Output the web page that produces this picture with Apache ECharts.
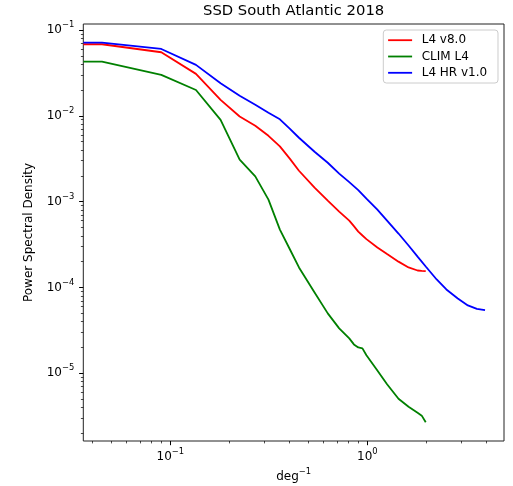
<!DOCTYPE html>
<html>
<head>
<meta charset="utf-8">
<style>
  html, body { margin: 0; padding: 0; background: #fff; }
  #chart { width: 513px; height: 486px; }
</style>
<script src="https://cdn.jsdelivr.net/npm/echarts@6/dist/echarts.min.js"></script>
</head>
<body>
<div id="chart"></div>
<script>
// Wavenumber samples (deg^-1) for the L4 v8.0 and CLIM L4 spectra
const freq = [0.0362, 0.045, 0.09, 0.135, 0.18, 0.225, 0.27, 0.315, 0.36, 0.405, 0.45,
  0.54, 0.63, 0.72, 0.81, 0.855, 0.9, 0.945, 0.99, 1.125, 1.26, 1.44, 1.62, 1.8, 1.89, 1.98];

const psdL4v8 = [0.0682, 0.0682, 0.0550, 0.0308, 0.01535, 0.00982, 0.00766, 0.00585, 0.0044,
  0.00315, 0.00229, 0.001455, 0.001028, 0.000766, 0.000601, 0.000519, 0.000448, 0.000403,
  0.000366, 0.000292, 0.000245, 0.000200, 0.000171, 0.0001577, 0.000156, 0.000155];

const psdClim = [0.0428, 0.0428, 0.0300, 0.0200, 0.00898, 0.00308, 0.00197, 0.001054, 0.000472,
  0.000277, 0.000171, 8.75e-5, 4.99e-5, 3.34e-5, 2.55e-5, 2.17e-5, 2.0e-5, 1.95e-5, 1.62e-5,
  1.08e-5, 7.45e-6, 5.05e-6, 4.07e-6, 3.47e-6, 3.21e-6, 2.69e-6];

// Wavenumber samples (deg^-1) for the high-resolution product
const freqHR = [0.0362, 0.045, 0.09, 0.135, 0.18, 0.225, 0.27, 0.315, 0.36, 0.405, 0.45,
  0.54, 0.63, 0.72, 0.81, 0.9, 0.99, 1.125, 1.26, 1.44, 1.62, 1.8, 1.98,
  2.25, 2.52, 2.88, 3.24, 3.6, 3.96];

const psdHR = [0.0712, 0.0712, 0.0601, 0.0392, 0.0240, 0.0171, 0.01346, 0.01084, 0.00911,
  0.00706, 0.00555, 0.00381, 0.00284, 0.00212, 0.001686, 0.001362, 0.001084, 0.000807,
  0.000601, 0.000425, 0.000308, 0.000229, 0.0001754, 0.0001239, 9.48e-5, 7.45e-5,
  6.17e-5, 5.62e-5, 5.44e-5];

const seriesNames = ['L4 v8.0', 'CLIM L4', 'L4 HR v1.0'];
const seriesColors = ['#ff0000', '#008000', '#0000ff'];

// Axis ranges and tick positions
const X_MIN = 0.03617, X_MAX = 4.943;
const Y_MIN = 1.626e-6, Y_MAX = 0.1174;
const xMajorTicks = [0.1, 1];
const xMinorTicks = [0.04, 0.05, 0.06, 0.07, 0.08, 0.09, 0.2, 0.3, 0.4, 0.5, 0.6, 0.7, 0.8, 0.9, 2, 3, 4];
const yMajorTicks = [1e-5, 1e-4, 1e-3, 1e-2, 1e-1];
const yMinorTicks = [];
for (let d = -6; d <= -2; d++) {
  for (let m = 2; m <= 9; m++) {
    const v = m * Math.pow(10, d);
    if (v >= Y_MIN && v <= Y_MAX) yMinorTicks.push(v);
  }
}

const FONT = 'DejaVu Sans';
const MINUS = '\u2212';

function zip(xs, ys) {
  return xs.map((x, i) => [x, ys[i]]);
}

function powerLabel(v) {
  const e = Math.round(Math.log10(v));
  const exp = e < 0 ? MINUS + Math.abs(e) : String(e);
  return '{b|10}{s|' + exp + '}';
}

const labelRich = {
  b: { fontSize: 12, lineHeight: 18, fontFamily: FONT, color: '#000' },
  s: { fontSize: 8.4, lineHeight: 8.6, verticalAlign: 'top', fontFamily: FONT, color: '#000' }
};

const majorTick = { show: true, inside: false, length: 4.2, lineStyle: { color: '#000', width: 1 } };
const minorTick = { show: true, inside: false, length: 2.4, lineStyle: { color: '#000', width: 0.7 } };

const chart = echarts.init(document.getElementById('chart'), null, { renderer: 'canvas' });

chart.setOption({
  animation: false,
  backgroundColor: '#fff',
  title: {
    text: 'SSD South Atlantic 2018',
    left: 293.6,
    top: 3.5,
    textAlign: 'center',
    padding: 0,
    textStyle: { fontSize: 14.8, fontWeight: 'normal', color: '#000', fontFamily: FONT, lineHeight: 16 }
  },
  grid: {
    left: 83.3, right: 9, top: 24, bottom: 45,
    containLabel: false,
    outerBoundsMode: 'none',
    show: true,
    borderColor: '#222',
    borderWidth: 1,
    backgroundColor: 'transparent'
  },
  legend: {
    data: seriesNames,
    orient: 'vertical',
    left: 383.3,
    top: 30,
    padding: [4.2, 10.8, 4.2, 4.8],
    itemWidth: 24,
    itemHeight: 14,
    itemGap: 4.3,
    // plain line handle for each entry
    icon: 'path://M0,0L24,0L24,1.8L0,1.8Z',
    borderColor: '#cccccc',
    borderWidth: 1,
    borderRadius: 3,
    backgroundColor: 'rgba(255,255,255,0.8)',
    selectedMode: false,
    textStyle: { fontSize: 12, fontFamily: FONT, color: '#000', padding: [0, 0, 0, 4.6] }
  },
  xAxis: [
    {
      type: 'log', logBase: 10, min: X_MIN, max: X_MAX, position: 'bottom',
      axisLine: { show: false },
      axisTick: Object.assign({ customValues: xMajorTicks }, majorTick),
      axisLabel: { customValues: xMajorTicks, margin: 6.5, formatter: powerLabel, rich: labelRich },
      splitLine: { show: false },
      name: '{b|deg}{s|' + MINUS + '1}',
      nameLocation: 'middle',
      nameGap: 25.2,
      nameTextStyle: { rich: labelRich }
    },
    {
      type: 'log', logBase: 10, min: X_MIN, max: X_MAX, position: 'bottom',
      axisLine: { show: false },
      axisTick: Object.assign({ customValues: xMinorTicks }, minorTick),
      axisLabel: { show: false },
      splitLine: { show: false }
    }
  ],
  yAxis: [
    {
      type: 'log', logBase: 10, min: Y_MIN, max: Y_MAX, position: 'left',
      axisLine: { show: false },
      axisTick: Object.assign({ customValues: yMajorTicks }, majorTick),
      axisLabel: { customValues: yMajorTicks, margin: 9, formatter: powerLabel, rich: labelRich },
      splitLine: { show: false },
      name: 'Power Spectral Density',
      nameLocation: 'middle',
      nameGap: 40,
      nameTextStyle: { fontSize: 12, fontFamily: FONT, color: '#000', lineHeight: 14 }
    },
    {
      type: 'log', logBase: 10, min: Y_MIN, max: Y_MAX, position: 'left',
      axisLine: { show: false },
      axisTick: Object.assign({ customValues: yMinorTicks }, minorTick),
      axisLabel: { show: false },
      splitLine: { show: false }
    }
  ],
  series: [
    { name: seriesNames[0], data: zip(freq, psdL4v8) },
    { name: seriesNames[1], data: zip(freq, psdClim) },
    { name: seriesNames[2], data: zip(freqHR, psdHR) }
  ].map((s, i) => Object.assign({
    type: 'line',
    xAxisIndex: 0,
    yAxisIndex: 0,
    symbol: 'none',
    showSymbol: false,
    smooth: false,
    color: seriesColors[i],
    lineStyle: { color: seriesColors[i], width: 1.8 },
    emphasis: { disabled: true }
  }, s))
});
</script>
</body>
</html>
